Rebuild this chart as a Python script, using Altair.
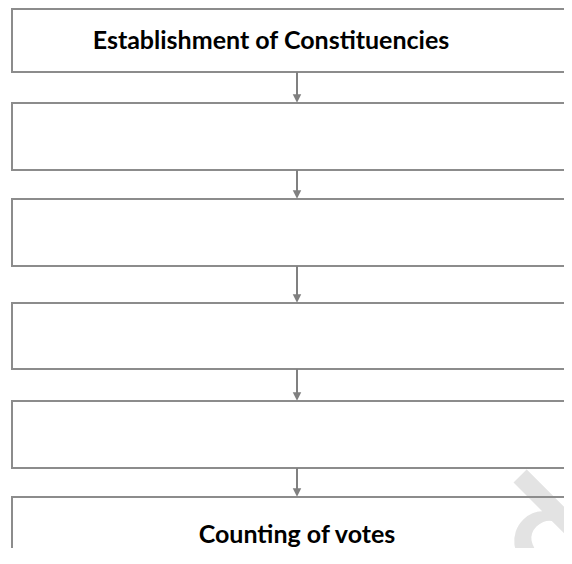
import altair as alt
import pandas as pd

# Box edges (page pixel coordinates)
box_tops = [9, 103, 199, 303, 401, 497]
box_bottoms = [72, 170, 266, 369, 468, 562]
box_left = [12] * 6
box_right = [620] * 6
labels = ["Establishment of Constituencies", "", "", "", "", "Counting of votes"]
label_x = [271, 297, 297, 297, 297, 297]
label_y = [49, 0, 0, 0, 0, 543]
arrow_x = 297

# faint watermark fragment in the lower right corner
wm_text = ["d"]
wm_x = [550]
wm_y = [540]

boxes = pd.DataFrame({"x": box_left, "x2": box_right, "y": box_tops, "y2": box_bottoms})
arrows = pd.DataFrame({
    "x": [arrow_x] * 5,
    "y": box_bottoms[:-1],
    "y2": [t - 6 for t in box_tops[1:]],
    "head": [t - 4.5 for t in box_tops[1:]],
})
texts = pd.DataFrame({"label": labels, "x": label_x, "y": label_y})
texts = texts[texts["label"] != ""]
wm = pd.DataFrame({"t": wm_text, "x": wm_x, "y": wm_y})

W, H = 556, 540
xs = alt.Scale(domain=[8, 8 + W], nice=False, zero=False)
ys = alt.Scale(domain=[8, 8 + H], nice=False, zero=False, reverse=True)

water = alt.Chart(wm).mark_text(
    font="Lato", fontWeight="bold", fontSize=150, color="#e3e3e3",
    angle=315, align="center", baseline="middle", clip=True
).encode(
    x=alt.X("x:Q", scale=xs, axis=None),
    y=alt.Y("y:Q", scale=ys, axis=None),
    text="t:N",
)

rects = alt.Chart(boxes).mark_rect(
    fill=None, stroke="#8c8c8c", strokeWidth=2, clip=True
).encode(
    x=alt.X("x:Q", scale=xs, axis=None),
    x2="x2:Q",
    y=alt.Y("y:Q", scale=ys, axis=None),
    y2="y2:Q",
)

lines = alt.Chart(arrows).mark_rule(color="#808080", strokeWidth=2).encode(
    x=alt.X("x:Q", scale=xs, axis=None),
    y=alt.Y("y:Q", scale=ys, axis=None),
    y2="y2:Q",
)

heads = alt.Chart(arrows).mark_point(
    shape="M-1,-1L1,-1L0,1Z", filled=True, color="#808080", size=72, opacity=1
).encode(
    x=alt.X("x:Q", scale=xs, axis=None),
    y=alt.Y("head:Q", scale=ys, axis=None),
)

txt = alt.Chart(texts).mark_text(
    font="Lato", fontWeight="bold", fontSize=25, color="black",
    align="center", baseline="alphabetic"
).encode(
    x=alt.X("x:Q", scale=xs, axis=None),
    y=alt.Y("y:Q", scale=ys, axis=None),
    text="label:N",
)

chart = alt.layer(water, rects, lines, heads, txt).properties(
    width=W, height=H, padding=0, autosize=alt.AutoSizeParams(type="none")
).configure_view(stroke=None)

chart.save("out.html", embed_options={"renderer": "svg", "actions": False})
